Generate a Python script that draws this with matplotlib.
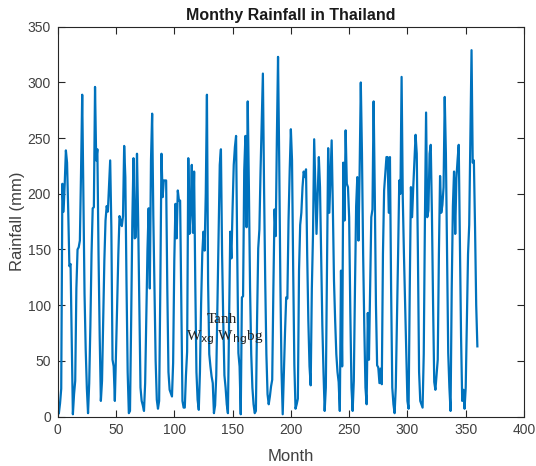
import numpy as np
import matplotlib
matplotlib.use("Agg")
import matplotlib.pyplot as plt

# Monthly rainfall (mm), one row per year, Jan..Dec
years_01_10 = [
    [3, 12, 25, 209, 184, 209, 239, 228, 185, 135, 137, 70],
    [2, 20, 32, 115, 150, 152, 158, 220, 289, 200, 110, 60],
    [25, 3, 30, 81, 146, 187, 188, 296, 230, 240, 146, 72],
    [14, 32, 86, 140, 176, 189, 184, 206, 230, 170, 51, 45],
    [14, 56, 101, 146, 180, 176, 171, 180, 243, 215, 120, 40],
    [3, 5, 86, 176, 232, 160, 161, 236, 176, 101, 26, 14],
    [10, 5, 30, 90, 150, 187, 115, 230, 272, 180, 113, 50],
    [15, 7, 14, 115, 236, 197, 212, 212, 212, 115, 40, 24],
    [21, 18, 48, 140, 191, 160, 203, 194, 194, 101, 14, 8],
    [8, 37, 58, 232, 164, 184, 226, 165, 220, 120, 40, 15],
]
years_11_20 = [
    [6, 40, 101, 146, 166, 149, 200, 289, 120, 56, 45, 36],
    [30, 3, 10, 37, 101, 161, 226, 240, 146, 86, 37, 26],
    [11, 3, 86, 166, 142, 187, 226, 242, 252, 146, 57, 45],
    [2, 107, 108, 221, 252, 170, 283, 206, 115, 56, 26, 11],
    [3, 5, 86, 151, 168, 221, 266, 308, 206, 122, 56, 20],
    [11, 18, 27, 33, 115, 186, 162, 250, 323, 230, 120, 40],
    [2, 40, 76, 107, 106, 176, 221, 258, 230, 131, 46, 7],
    [11, 16, 131, 172, 183, 206, 220, 215, 222, 146, 86, 45],
    [28, 115, 164, 249, 206, 164, 200, 233, 206, 146, 82, 40],
    [5, 26, 131, 241, 183, 216, 248, 189, 122, 86, 56, 40],
]
years_21_30 = [
    [31, 5, 131, 45, 228, 176, 257, 209, 206, 179, 94, 26],
    [5, 32, 115, 189, 215, 158, 221, 300, 236, 146, 80, 26],
    [11, 93, 51, 115, 179, 186, 283, 200, 100, 46, 44, 30],
    [43, 29, 146, 203, 218, 233, 233, 183, 233, 115, 26, 11],
    [3, 26, 86, 146, 212, 200, 305, 197, 146, 101, 56, 14],
    [7, 115, 206, 179, 206, 230, 253, 236, 146, 40, 14, 11],
    [8, 56, 176, 273, 179, 185, 236, 244, 183, 101, 31, 24],
    [37, 51, 146, 216, 183, 190, 206, 287, 236, 146, 57, 26],
    [5, 115, 189, 220, 164, 214, 230, 244, 161, 72, 14, 24],
    [7, 26, 86, 146, 172, 251, 329, 228, 230, 170, 100, 63],
]

rainfall = np.concatenate([np.ravel(years_01_10),
                           np.ravel(years_11_20),
                           np.ravel(years_21_30)])
months = np.arange(1, len(rainfall) + 1)

plt.rcParams["font.family"] = ["Liberation Sans", "DejaVu Sans"]
axis_gray = "#262626"
label_gray = "#404040"

fig = plt.figure(figsize=(5.36, 4.66), dpi=100)
ax = fig.add_axes([0.1077, 0.1062, 0.8699, 0.8363])

ax.plot(months, rainfall, color="#0072BD", linewidth=1.6)

ax.set_xlim(0, 400)
ax.set_ylim(0, 350)
ax.set_xticks(np.arange(0, 401, 50))
ax.set_yticks(np.arange(0, 351, 50))

for side in ax.spines.values():
    side.set_color(axis_gray)
    side.set_linewidth(0.8)
ax.tick_params(direction="in", length=5, width=0.8, colors=axis_gray,
               labelsize=10, top=True, right=True, pad=5)
for lbl in ax.get_xticklabels() + ax.get_yticklabels():
    lbl.set_color(label_gray)

ax.set_xlabel("Month", fontsize=12, color=label_gray, labelpad=8)
ax.set_ylabel("Rainfall (mm)", fontsize=12, color=label_gray, labelpad=2)
ax.set_title("Monthy Rainfall in Thailand", fontsize=11.5, fontweight="bold",
             color="#1a1a1a", pad=5)

# gate label left on the figure
serif = ["Liberation Serif", "DejaVu Serif"]
ax.text(141, 87, "Tanh", family=serif, fontsize=11, color="#222222",
        ha="center", va="center")
ax.text(143, 71, r"W$_{\mathrm{xg}}$ W$_{\mathrm{hg}}$bg", family=serif,
        fontsize=11, color="#222222", ha="center", va="center")

fig.savefig("out.png", dpi=100, facecolor="white")
